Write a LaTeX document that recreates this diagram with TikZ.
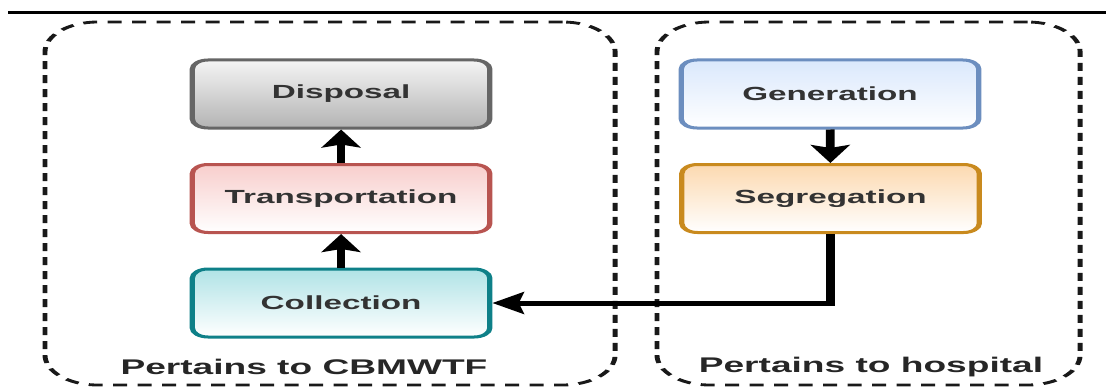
\documentclass[tikz,border=0pt]{standalone}
\usepackage{fontspec}
\setmainfont{Liberation Sans}
\usetikzlibrary{shapes,arrows.meta,positioning}

\definecolor{dispfill}{HTML}{F5F5F5}
\definecolor{dispgrad}{HTML}{B3B3B3}
\definecolor{displine}{HTML}{666666}
\definecolor{transfill}{HTML}{F8CECC}
\definecolor{transline}{HTML}{B85450}
\definecolor{collfill}{HTML}{B0E3E6}
\definecolor{collline}{HTML}{0E8088}
\definecolor{genfill}{HTML}{DAE8FC}
\definecolor{genline}{HTML}{6C8EBF}
\definecolor{segfill}{HTML}{FCD9B0}
\definecolor{segline}{HTML}{C98A1E}

\tikzset{
	stage/.style={rectangle, rounded corners=4.5pt, line width=1.5pt, minimum width=85pt, minimum height=34pt, font=\bfseries\fontsize{9.5}{11}\selectfont, text=black!80, bottom color=white},
	zone/.style={rectangle, draw=black!90, dash pattern=on 4pt off 3pt, line width=1.4pt, rounded corners=15pt, minimum height=181.5pt},
	flow/.style={-{Stealth[length=9pt, width=11pt, inset=1.5pt]}, line width=2.5pt},
	zonelabel/.style={font=\bfseries\fontsize{10.6}{12}\selectfont, text=black!85}
}

\begin{document}
\begin{tikzpicture}[x=0.5pt, y=-0.5pt]
	\useasboundingbox (0,0) rectangle (1106,390);
	\begin{scope}[transform canvas={xscale=1.75}]
	\draw [line width=1.5pt] (4.6,13) -- (632,13);
	% the two areas
	\node [zone, minimum width=162.9pt] (cbmwtf) at (188.6,203.5) {};
	\node [zone, minimum width=120.9pt] (hospital) at (496.3,203.5) {};
	% stages
	\node [stage, draw=displine, top color=dispfill, bottom color=dispgrad] (disposal) at (194.9,94) {Disposal};
	\node [stage, draw=transline, top color=transfill] (transport) at (194.9,198.5) {Transportation};
	\node [stage, draw=collline, top color=collfill] (collection) at (194.9,303) {Collection};
	\node [stage, draw=genline, top color=genfill] (generation) at (474.3,94) {Generation};
	\node [stage, draw=segline, top color=segfill] (segregation) at (474.6,198.5) {Segregation};
	\node [zonelabel] (cbmwtflabel) at (173.7,367) {Pertains to CBMWTF};
	\node [zonelabel] (hospitallabel) at (497.7,367) {Pertains to hospital};
	% arrows
	\draw [flow] (collection) -- (transport);
	\draw [flow] (transport) -- (disposal);
	\draw [flow] (generation) -- (segregation);
	\draw [flow] (segregation.south) |- (collection.east);
	\end{scope}
\end{tikzpicture}
\end{document}
